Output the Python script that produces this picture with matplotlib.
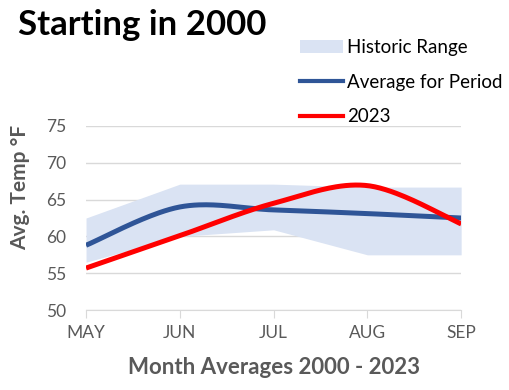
import numpy as np
import matplotlib
matplotlib.use("Agg")
from matplotlib import pyplot
from matplotlib.patches import Patch
from matplotlib.lines import Line2D

# DATA
months = ["MAY", "JUN", "JUL", "AUG", "SEP"]
range_low = [56.5, 60.0, 60.9, 57.5, 57.5]
range_high = [62.5, 67.1, 67.1, 66.7, 66.7]
avg_period = [58.8, 64.0, 63.6, 63.1, 62.5]
temps_2023 = [55.7, 60.1, 64.5, 66.9, 61.7]

# COLOURS
BAND = "#dae3f3"
BLUE = "#2f5597"
RED = "#ff0000"
GREY = "#595959"
GRID = "#d9d9d9"

pyplot.rcParams["font.family"] = ["Lato", "DejaVu Sans"]


def smooth(xs, ys, n=40):
    """Excel style smoothed line (Catmull-Rom bezier segments)"""
    xs = np.asarray(xs, dtype=float)
    ys = np.asarray(ys, dtype=float)
    px = np.concatenate([[xs[0]], xs, [xs[-1]]])
    py = np.concatenate([[ys[0]], ys, [ys[-1]]])
    outx, outy = [], []
    t = np.linspace(0, 1, n)
    for i in range(1, len(px) - 2):
        p0 = np.array([px[i], py[i]])
        p3 = np.array([px[i + 1], py[i + 1]])
        c1 = p0 + (np.array([px[i + 1], py[i + 1]]) - np.array([px[i - 1], py[i - 1]])) / 6.0
        c2 = p3 - (np.array([px[i + 2], py[i + 2]]) - np.array([px[i], py[i]])) / 6.0
        bx = (1 - t) ** 3 * p0[0] + 3 * (1 - t) ** 2 * t * c1[0] + 3 * (1 - t) * t ** 2 * c2[0] + t ** 3 * p3[0]
        by = (1 - t) ** 3 * p0[1] + 3 * (1 - t) ** 2 * t * c1[1] + 3 * (1 - t) * t ** 2 * c2[1] + t ** 3 * p3[1]
        outx.extend(bx)
        outy.extend(by)
    return np.array(outx), np.array(outy)


x = np.arange(len(months))

fig = pyplot.figure(figsize=(5.09, 3.90), dpi=100)
ax = fig.add_axes([0.169, 0.205, 0.737, 0.472])

ax.fill_between(x, range_low, range_high, color=BAND, lw=0, zorder=1)
sx, sy = smooth(x, avg_period)
ax.plot(sx, sy, color=BLUE, lw=3.6, zorder=3, solid_capstyle="butt")
sx, sy = smooth(x, temps_2023)
ax.plot(sx, sy, color=RED, lw=3.6, zorder=4, solid_capstyle="butt")

ax.set_xlim(0, len(months) - 1)
ax.set_ylim(50, 75)
ax.set_yticks(range(50, 76, 5))
ax.set_xticks(x)
ax.set_xticklabels(months)
ax.yaxis.grid(True, color=GRID, lw=1)
ax.set_axisbelow(True)
for s in ["top", "right", "left"]:
    ax.spines[s].set_visible(False)
ax.spines["bottom"].set_color(GRID)
ax.tick_params(axis="y", length=0, pad=14, labelsize=12.5, labelcolor=GREY)
ax.tick_params(axis="x", length=6, color=GRID, pad=5, labelsize=12.5, labelcolor=GREY)

ax.set_ylabel("Avg. Temp °F", fontsize=15, fontweight="bold", color=GREY)
ax.yaxis.set_label_coords(-0.148, 0.665)
ax.set_xlabel("Month Averages 2000 - 2023", fontsize=16, fontweight="bold", color=GREY, labelpad=11)

fig.text(0.035, 0.937, "Starting in 2000", fontsize=25, fontweight="bold", color="black", va="center")

handles = [Patch(color=BAND, lw=0),
           Line2D([], [], color=BLUE, lw=3),
           Line2D([], [], color=RED, lw=3)]
labels = ["Historic Range", "Average for Period", "2023"]
leg = fig.legend(handles, labels, loc="upper left", bbox_to_anchor=(0.575, 0.92),
                 frameon=False, fontsize=13.5, handlelength=2.3, handletextpad=0.2,
                 labelspacing=0.95, borderaxespad=0)

fig.savefig("out.png", dpi=100)
